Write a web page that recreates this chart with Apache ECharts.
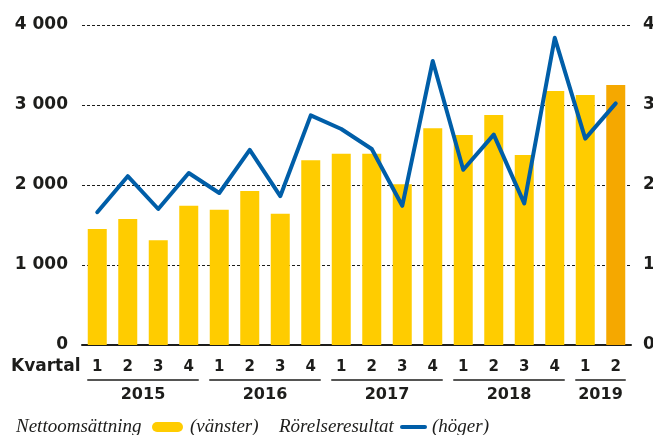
<!DOCTYPE html>
<html>
<head>
<meta charset="utf-8">
<script src="https://cdn.jsdelivr.net/npm/echarts@6/dist/echarts.min.js"></script>
<style>
  html, body { margin: 0; padding: 0; background: #fff; }
  #chart { width: 653px; height: 435px; }
</style>
</head>
<body>
<div id="chart"></div>
<script>
// quarters along the x axis, grouped by year
const quarters = ['1','2','3','4','1','2','3','4','1','2','3','4','1','2','3','4','1','2']
const years = ['2015','2016','2017','2018','2019']
const yearStart = [0, 4, 8, 12, 16]
const yearEnd = [3, 7, 11, 15, 17]

// Nettoomsättning (left axis, MSEK)
const netSales = [1450,1575,1310,1740,1690,1925,1640,2310,2390,2390,2010,2710,2625,2875,2375,3175,3125,3250]
// Rörelseresultat (right axis, MSEK)
const operatingResult = [166,211,170,215,190,244,186,287,270,245,174,355,219,263,177,384,258,302]

const leftTicks = [0, 1000, 2000, 3000, 4000]
const rightTicks = [0, 100, 200, 300, 400]

const ink = '#1d1d1b'
const yellow = '#ffcc00'
const orange = '#f5a800'
const blue = '#005ea8'
const boldFont = 'DejaVu Sans'
const serifFont = 'Liberation Serif'

const fmtThousands = v => String(v).replace(/\B(?=(\d{3})+(?!\d))/g, ' ')

const chart = echarts.init(document.getElementById('chart'), null, { renderer: 'canvas' })

chart.setOption({
  animation: false,
  grid: { left: 82, right: 22, top: 25, bottom: 90, outerBoundsMode: 'none', containLabel: false },
  xAxis: {
    type: 'category',
    data: quarters,
    axisLine: { lineStyle: { color: ink, width: 2 } },
    axisTick: { show: false },
    axisLabel: { color: ink, fontFamily: boldFont, fontWeight: 'bold', fontSize: 15, margin: 15 }
  },
  yAxis: [
    {
      type: 'value', min: leftTicks[0], max: leftTicks[leftTicks.length - 1], interval: 1000,
      axisLine: { show: false }, axisTick: { show: false },
      axisLabel: { color: ink, fontFamily: boldFont, fontWeight: 'bold', fontSize: 17, margin: 14, formatter: fmtThousands },
      splitLine: { lineStyle: { color: ink, width: 1, type: [3, 2] } }
    },
    {
      type: 'value', min: rightTicks[0], max: rightTicks[rightTicks.length - 1], interval: 100,
      axisLine: { show: false }, axisTick: { show: false },
      axisLabel: { color: ink, fontFamily: boldFont, fontWeight: 'bold', fontSize: 17, margin: 12 },
      splitLine: { show: false }
    }
  ],
  series: [
    {
      name: 'Nettoomsättning',
      type: 'bar',
      data: netSales,
      barWidth: 19,
      itemStyle: { color: p => (p.dataIndex === netSales.length - 1 ? orange : yellow) }
    },
    {
      name: 'Rörelseresultat',
      type: 'line',
      yAxisIndex: 1,
      data: operatingResult,
      showSymbol: false,
      lineStyle: { color: blue, width: 4, join: 'round', cap: 'round' },
      z: 5
    }
  ]
})

// year groups under the quarter labels, placed from the category axis
const graphics = []
years.forEach((y, i) => {
  const x0 = chart.convertToPixel({ xAxisIndex: 0 }, yearStart[i]) - 10
  const x1 = chart.convertToPixel({ xAxisIndex: 0 }, yearEnd[i]) + 10
  graphics.push({
    type: 'line', shape: { x1: x0, y1: 380, x2: x1, y2: 380 },
    style: { stroke: ink, lineWidth: 1.3 }
  })
  graphics.push({
    type: 'text', x: (x0 + x1) / 2, y: 395,
    style: { text: y, fill: ink, font: `bold 16px "${boldFont}"`, align: 'center', verticalAlign: 'middle' }
  })
})

graphics.push(
  { type: 'text', x: 11, y: 367, style: { text: 'Kvartal', fill: ink, font: `bold 17px "${boldFont}"`, verticalAlign: 'middle' } },
  { type: 'text', x: 16, y: 427, style: { text: 'Nettoomsättning', fill: ink, font: `italic 19px "${serifFont}"`, verticalAlign: 'middle' } },
  { type: 'rect', shape: { x: 152, y: 422, width: 31, height: 10, r: 5 }, style: { fill: yellow } },
  { type: 'text', x: 190, y: 427, style: { text: '(vänster)', fill: ink, font: `italic 19px "${serifFont}"`, verticalAlign: 'middle' } },
  { type: 'text', x: 279, y: 427, style: { text: 'Rörelseresultat', fill: ink, font: `italic 19px "${serifFont}"`, verticalAlign: 'middle' } },
  { type: 'line', shape: { x1: 402, y1: 427, x2: 425, y2: 427 }, style: { stroke: blue, lineWidth: 4, lineCap: 'round' } },
  { type: 'text', x: 432, y: 427, style: { text: '(höger)', fill: ink, font: `italic 19px "${serifFont}"`, verticalAlign: 'middle' } }
)

chart.setOption({ graphic: graphics })
</script>
</body>
</html>
